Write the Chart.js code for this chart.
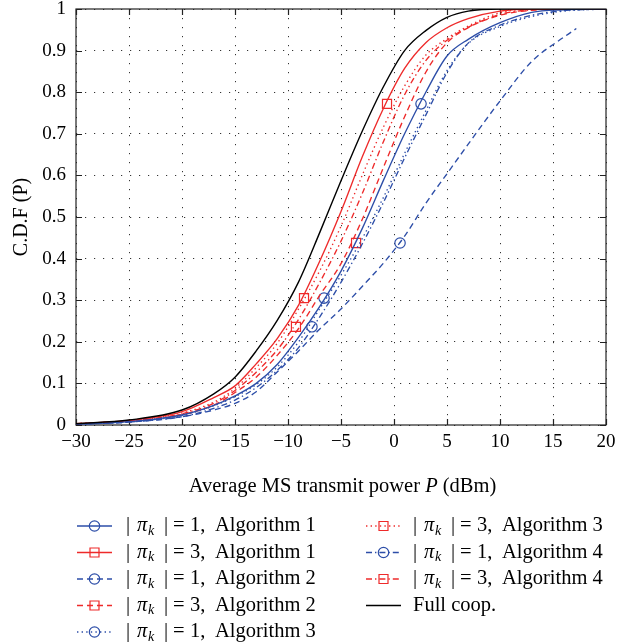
<!DOCTYPE html>
<html>
<head>
<meta charset="utf-8">
<script src="https://cdn.jsdelivr.net/npm/chart.js@4/dist/chart.umd.min.js"></script>
<style>
html,body{margin:0;padding:0;background:#fff;}
#wrap{width:617px;height:644px;position:relative;}
</style>
</head>
<body>
<div id="wrap"><canvas id="c" width="617" height="644"></canvas></div>
<script>
// ---- Data ----
const P = [-30,-25,-20,-17,-15,-13,-11,-9,-7,-5,-3,-1,1,3,5,7,10,13,16,20];
const P_ALG2_PI1 = [-30,-25,-20,-17,-15,-13,-11,-9,-7,-5,-3,-1,1,3,5,7,10,13,16,17.2];

const cdfAlg1Pi1 = [0.002,0.008,0.024,0.047,0.070,0.100,0.146,0.211,0.285,0.370,0.472,0.588,0.700,0.800,0.887,0.927,0.967,0.992,0.998,1.000];
const cdfAlg1Pi3 = [0.003,0.011,0.032,0.066,0.094,0.147,0.208,0.288,0.394,0.513,0.644,0.761,0.857,0.919,0.955,0.977,0.995,1.000,1.000,1.000];
const cdfAlg2Pi1 = [0.002,0.007,0.020,0.036,0.052,0.080,0.128,0.178,0.231,0.279,0.333,0.389,0.454,0.533,0.604,0.675,0.779,0.874,0.932,0.953];
const cdfAlg2Pi3 = [0.003,0.009,0.025,0.048,0.078,0.115,0.168,0.232,0.312,0.388,0.494,0.619,0.741,0.848,0.919,0.955,0.985,0.997,1.000,1.000];
const cdfAlg3Pi1 = [0.002,0.008,0.023,0.046,0.068,0.097,0.140,0.200,0.280,0.360,0.448,0.547,0.653,0.755,0.852,0.917,0.958,0.982,0.995,1.000];
const cdfAlg3Pi3 = [0.003,0.010,0.029,0.055,0.088,0.138,0.197,0.279,0.371,0.478,0.600,0.716,0.815,0.889,0.929,0.959,0.991,1.000,1.000,1.000];
const cdfAlg4Pi1 = [0.002,0.007,0.020,0.040,0.060,0.090,0.132,0.186,0.260,0.343,0.435,0.535,0.642,0.745,0.847,0.918,0.961,0.985,0.996,1.000];
const cdfAlg4Pi3 = [0.003,0.010,0.027,0.052,0.083,0.127,0.181,0.254,0.343,0.442,0.556,0.681,0.794,0.876,0.925,0.956,0.987,0.998,1.000,1.000];
const cdfFullCoop = [0.003,0.012,0.036,0.075,0.115,0.178,0.252,0.344,0.463,0.587,0.706,0.813,0.900,0.948,0.980,0.995,1.000,1.000,1.000,1.000];

// one marker per curve (legend order, Full coop. has none)
const markerP   = [2.55, -0.66, 0.57, -3.58, -6.6, -8.49, -7.74, -9.25];
const markerCdf = [0.772, 0.772, 0.4375, 0.4375, 0.305, 0.305, 0.236, 0.236];

// legend text pieces
const piK  = [1, 3, 1, 3, 1, 3, 1, 3];
const algo = [1, 1, 2, 2, 3, 3, 4, 4];
const fullCoopLabel = 'Full coop.';

const xTicks = [-30,-25,-20,-15,-10,-5,0,5,10,15,20];
const yTicks = [0,0.1,0.2,0.3,0.4,0.5,0.6,0.7,0.8,0.9,1];
const xTitle = ['Average MS transmit power ', 'P', ' (dBm)'];
const yTitle = 'C.D.F (P)';

// ---- Styles ----
const BLUE = '#2d4ea8', RED = '#ee2a2a', BLACK = '#000000';
const DASH = [6, 4], DOT = [1.4, 3.2], DASHDOT = [6, 3, 1.4, 3];
const seriesY = [cdfAlg1Pi1, cdfAlg1Pi3, cdfAlg2Pi1, cdfAlg2Pi3, cdfAlg3Pi1, cdfAlg3Pi3, cdfAlg4Pi1, cdfAlg4Pi3, cdfFullCoop];
const seriesX = [P, P, P_ALG2_PI1, P, P, P, P, P, P];
const styles = [
  {c: BLUE, d: [], m: 'circle'},
  {c: RED, d: [], m: 'rect'},
  {c: BLUE, d: DASH, m: 'circle'},
  {c: RED, d: DASH, m: 'rect'},
  {c: BLUE, d: DOT, m: 'circle'},
  {c: RED, d: DOT, m: 'rect'},
  {c: BLUE, d: DASHDOT, m: 'circle'},
  {c: RED, d: DASHDOT, m: 'rect'},
  {c: BLACK, d: [], m: null}
];

const datasets = [];
seriesY.forEach((ys, i) => {
  const st = styles[i];
  const label = i < 8 ? `| \u03c0k | = ${piK[i]}, Algorithm ${algo[i]}` : fullCoopLabel;
  datasets.push({
    label,
    data: ys.map((y, j) => ({x: seriesX[i][j], y})),
    borderColor: st.c,
    borderWidth: i === 8 ? 1.4 : 1.35,
    borderDash: st.d,
    pointRadius: 0,
    cubicInterpolationMode: 'monotone',
    fill: false,
    legendMarker: st.m,
    legendIndex: i,
    order: i === 8 ? -1 : 0
  });
});
markerP.forEach((mx, i) => {
  const st = styles[i];
  datasets.push({
    label: 'marker ' + i,
    isMarker: true,
    data: [{x: mx, y: markerCdf[i]}],
    showLine: false,
    pointStyle: st.m,
    pointRadius: st.m === 'rect' ? 6.4 : 5.2,
    pointBorderColor: st.c,
    pointBackgroundColor: 'rgba(0,0,0,0)',
    pointBorderWidth: 1.2,
    borderColor: st.c
  });
});

const SERIF = '"Liberation Serif", "Times New Roman", serif';

function drawMarker(ctx, style, x, y, color) {
  ctx.save();
  ctx.setLineDash([]);
  ctx.strokeStyle = color;
  ctx.lineWidth = 1.2;
  ctx.beginPath();
  if (style === 'circle') ctx.arc(x, y, 5.2, 0, Math.PI * 2);
  else if (style === 'rect') ctx.rect(x - 4.5, y - 4.5, 9, 9);
  ctx.stroke();
  ctx.restore();
}

const framePlugin = {
  id: 'frame',
  beforeDatasetsDraw(chart) {
    const {ctx, chartArea: a, scales: {x, y}} = chart;
    ctx.save();
    ctx.strokeStyle = '#222';
    ctx.lineWidth = 1.2;
    ctx.setLineDash([]);
    ctx.beginPath();
    xTicks.forEach(v => {
      const px = Math.round(x.getPixelForValue(v)) + 0.5;
      ctx.moveTo(px, a.bottom); ctx.lineTo(px, a.bottom - 6);
      ctx.moveTo(px, a.top); ctx.lineTo(px, a.top + 6);
    });
    yTicks.forEach(v => {
      const py = Math.round(y.getPixelForValue(v)) + 0.5;
      ctx.moveTo(a.left, py); ctx.lineTo(a.left + 6, py);
      ctx.moveTo(a.right, py); ctx.lineTo(a.right - 6, py);
    });
    ctx.stroke();
    ctx.strokeRect(a.left, a.top, a.right - a.left, a.bottom - a.top);
    ctx.restore();
  }
};

const textPlugin = {
  id: 'texts',
  afterDraw(chart) {
    const ctx = chart.ctx;
    const a = chart.chartArea;
    ctx.save();
    ctx.fillStyle = '#000';
    ctx.textBaseline = 'middle';
    // y title
    ctx.save();
    ctx.translate(22, (a.top + a.bottom) / 2);
    ctx.rotate(-Math.PI / 2);
    ctx.font = '20px ' + SERIF;
    ctx.textAlign = 'center';
    ctx.fillText(yTitle, 0, 0);
    ctx.restore();
    // x title with italic P
    const fN = '20.5px ' + SERIF, fI = 'italic 20.5px ' + SERIF;
    ctx.textAlign = 'left';
    ctx.font = fN; const w0 = ctx.measureText(xTitle[0]).width;
    ctx.font = fI; const w1 = ctx.measureText(xTitle[1]).width;
    ctx.font = fN; const w2 = ctx.measureText(xTitle[2]).width;
    let sx = 342.5 - (w0 + w1 + w2) / 2;
    const ty = 487;
    ctx.font = fN; ctx.fillText(xTitle[0], sx, ty);
    ctx.font = fI; ctx.fillText(xTitle[1], sx + w0, ty);
    ctx.font = fN; ctx.fillText(xTitle[2], sx + w0 + w1, ty);

    // legend
    const lines = chart.data.datasets.filter(d => !d.isMarker);
    lines.forEach((d, i) => {
      const col = i < 5 ? 0 : 1;
      const row = i < 5 ? i : i - 5;
      const lx = col ? 366 : 77;
      const tx = col ? 413 : 126;
      const yy = 526 + row * 26.5;
      ctx.save();
      ctx.strokeStyle = d.borderColor;
      ctx.lineWidth = d.borderWidth;
      ctx.setLineDash(d.borderDash || []);
      ctx.beginPath();
      ctx.moveTo(lx, yy); ctx.lineTo(lx + 35, yy);
      ctx.stroke();
      ctx.restore();
      if (d.legendMarker) drawMarker(ctx, d.legendMarker, lx + 17.5, yy, d.borderColor);
      ctx.fillStyle = '#000';
      ctx.textBaseline = 'middle';
      const F = '20.5px ' + SERIF;
      if (d.legendIndex < 8) {
        const k = d.legendIndex;
        ctx.font = F;
        ctx.fillText('|', tx, yy);
        ctx.font = 'italic 20.5px ' + SERIF;
        ctx.fillText('\u03c0', tx + 11, yy);
        ctx.font = 'italic 14px ' + SERIF;
        ctx.fillText('k', tx + 22, yy + 5);
        ctx.font = F;
        ctx.fillText('|', tx + 38, yy);
        ctx.fillText('=', tx + 47, yy);
        ctx.fillText(piK[k] + ',', tx + 64, yy);
        ctx.fillText('Algorithm ' + algo[k], tx + 89, yy);
      } else {
        ctx.font = F;
        ctx.fillText(d.label, tx, yy);
      }
    });
    ctx.restore();
  }
};

const fmtNum = v => String(Math.round(v * 10) / 10).replace('-', '\u2212');

new Chart(document.getElementById('c'), {
  type: 'line',
  data: {datasets},
  options: {
    responsive: false,
    animation: false,
    devicePixelRatio: 1,
    layout: {padding: {left: 16, top: 9, right: 11, bottom: 179}},
    plugins: {legend: {display: false}, tooltip: {enabled: false}},
    elements: {point: {radius: 0}},
    scales: {
      x: {
        type: 'linear', min: -30, max: 20,
        afterBuildTicks: s => { s.ticks = xTicks.map(v => ({value: v})); },
        ticks: {autoSkip: false, maxRotation: 0, padding: 6, color: '#000',
          font: {family: SERIF, size: 19}, callback: v => fmtNum(v)},
        grid: {color: 'rgba(0,0,0,0.8)', lineWidth: 1, drawTicks: false},
        border: {display: false, dash: [1.2, 7.8]},
        afterFit: s => { s.height = 40; s.paddingLeft = 0; s.paddingRight = 0; }
      },
      y: {
        type: 'linear', min: 0, max: 1,
        afterBuildTicks: s => { s.ticks = yTicks.map(v => ({value: v})); },
        ticks: {autoSkip: false, padding: 10, color: '#000',
          font: {family: SERIF, size: 19}, callback: v => fmtNum(v)},
        grid: {color: 'rgba(0,0,0,0.8)', lineWidth: 1, drawTicks: false},
        border: {display: false, dash: [1.2, 7.8]},
        afterFit: s => { s.width = 60; s.paddingTop = 0; s.paddingBottom = 0; }
      }
    }
  },
  plugins: [framePlugin, textPlugin]
});
</script>
</body>
</html>
